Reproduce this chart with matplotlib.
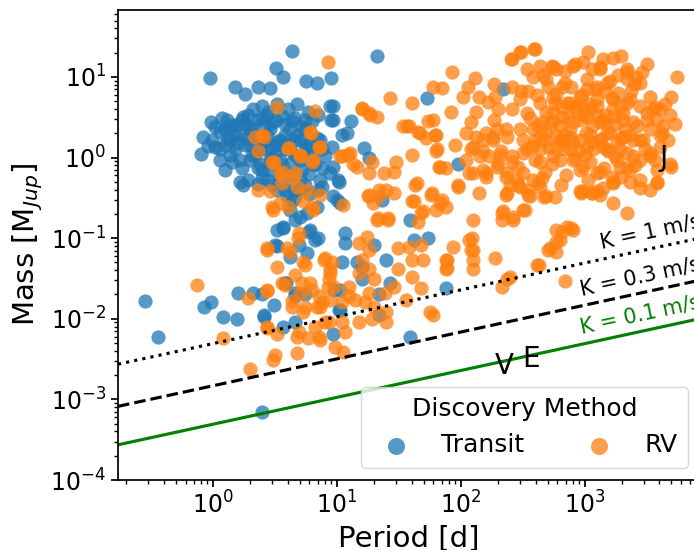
import numpy as np
import matplotlib
matplotlib.use("Agg")
import matplotlib.pyplot as plt

# planets found by transit (period [d], mass [M_Jup])
transit_period = [
    4.3, 21, 0.95, 3.2, 3.7, 1.5, 1.8, 2.3, 2.9, 5.6,
    6.9, 8.9, 9.3, 13, 16.5, 18, 11, 8.9, 53, 220,
    95, 0.8, 0.83, 0.96, 1.04, 1.14, 1.37, 1.75, 2.1, 2.5,
    2.7, 1.65, 1.9, 2.3, 2.9, 3.5, 4.2, 4.4, 4.2, 5.0,
    4.6, 5.7, 6.9, 3.95, 3.3, 3.7, 6.05, 7.0, 3.3, 4.2,
    5.7, 9.3, 10.6, 10.2, 8.8, 9.3, 8.0, 9.1, 12, 9.3,
    8.8, 1.25, 1.37, 1.5, 1.65, 1.81, 2.0, 2.2, 2.4, 2.6,
    2.9, 3.2, 3.5, 3.8, 4.2, 4.6, 5.0, 5.5, 6.0, 6.6,
    2.6, 3.2, 3.8, 4.6, 5.5, 2.0, 2.4, 2.9, 3.5, 4.2,
    5.0, 6.0, 7.3, 1.37, 1.65, 1.3, 1.6, 1.9, 2.3, 2.8,
    3.3, 4.0, 4.8, 5.8, 7.0, 7.3, 6.3, 7.6, 2.5, 3.0,
    5.0, 6.0, 3.8, 1.25, 1.81, 2.18, 2.63, 3.16, 3.8, 4.6,
    5.5, 2.0, 2.4, 2.9, 3.5, 4.2, 5.0, 1.5, 1.14, 0.98,
    1.18, 1.42, 1.71, 2.06, 2.49, 3.0, 3.6, 4.3, 5.2, 6.3,
    1.3, 1.56, 1.88, 2.26, 2.73, 3.3, 3.95, 4.75, 5.7, 6.9,
    1.42, 1.71, 2.06, 2.49, 3.0, 3.6, 4.3, 5.2, 6.3, 7.55,
    2.3, 2.8, 3.3, 4.6, 5.5, 7.0, 1.04, 0.91, 1.14, 1.25,
    1.75, 0.28, 0.36, 0.85, 0.96, 1.2, 1.56, 1.6, 2.1, 2.6,
    3.1, 3.7, 3.9, 4.6, 4.6, 9.3, 10.6, 2.5, 7.6, 10.4,
    10, 23, 3.7, 5.9, 6.6, 11.6, 11.6, 19.8, 25, 3.16,
    4.9, 11, 15.8, 3.8, 4.6, 5.5, 9.5, 10.6, 15.8, 27,
    22, 2.6, 10.4, 21.8, 39, 42, 54, 76, 39, 2.5,
    14.5,
]
transit_mass = [
    21, 18, 9.8, 13, 10, 7.6, 6.2, 7.6, 7.2, 8.8,
    8.3, 9.8, 4.3, 2.8, 1.33, 1.0, 1.93, 2.96, 5.4, 7.0,
    0.84, 1.12, 1.82, 2.72, 1.37, 2.1, 2.36, 3.2, 3.95, 4.3,
    3.4, 0.5, 0.53, 0.75, 0.94, 0.58, 0.44, 0.30, 0.226, 0.185,
    0.17, 0.207, 0.24, 0.33, 0.128, 0.139, 0.128, 0.1, 0.079, 0.059,
    0.066, 0.33, 0.276, 0.533, 0.65, 0.77, 1.03, 1.37, 2.04, 2.96,
    4.3, 2.23, 1.67, 1.26, 1.93, 1.45, 2.23, 1.09, 1.67, 1.26,
    2.23, 1.45, 0.94, 1.93, 1.26, 1.67, 0.94, 2.23, 1.45, 0.82,
    2.57, 2.96, 2.57, 3.1, 2.96, 0.94, 0.82, 0.71, 0.71, 0.62,
    0.53, 0.62, 0.53, 1.09, 0.94, 2.96, 2.57, 3.4, 2.96, 3.7,
    4.55, 3.95, 4.55, 3.7, 3.4, 1.67, 1.09, 1.26, 0.56, 0.46,
    0.40, 0.35, 0.40, 1.45, 2.57, 1.93, 1.67, 1.09, 1.26, 1.09,
    1.45, 1.45, 1.26, 1.33, 1.67, 2.23, 1.67, 1.93, 1.26, 1.67,
    3.1, 2.5, 2.96, 2.36, 3.1, 2.65, 3.3, 2.8, 2.36, 2.8,
    1.77, 1.5, 1.77, 1.41, 1.88, 1.58, 1.5, 1.88, 1.26, 1.77,
    0.89, 0.75, 1.06, 0.71, 1.0, 0.8, 0.89, 0.71, 0.82, 0.75,
    0.47, 0.53, 0.40, 0.32, 0.45, 0.40, 2.36, 1.41, 0.94, 0.71,
    0.46, 0.0165, 0.006, 0.014, 0.016, 0.0105, 0.010, 0.021, 0.021, 0.0105,
    0.015, 0.008, 0.028, 0.009, 0.019, 0.0064, 0.013, 0.0007, 0.436, 0.50,
    0.30, 0.30, 0.135, 0.12, 0.096, 0.117, 0.088, 0.083, 0.054, 0.083,
    0.083, 0.05, 0.044, 0.028, 0.021, 0.020, 0.023, 0.023, 0.031, 0.028,
    0.020, 0.011, 0.013, 0.011, 0.17, 0.096, 0.10, 0.024, 0.006, 0.020,
    0.05,
]

# planets found by radial velocity
rv_period = [
    # short period, mixed in with the transit clump
    8.5, 3.3, 6.6, 2.18, 2.5, 2.3, 3.0, 4.0, 6.05, 7.3,
    6.4, 5.0, 3.47, 3.6, 4.4, 4.75, 5.7, 2.3, 2.9, 3.47,
    3.05, 4.0, 5.3, 6.4, 7.3, 11, 11.2, 4.85, 2.7, 3.95,
    3.3, 5.3, 8.0, 8.8, 0.74, 1.9, 2.7, 3.8, 1.2, 2.7,
    3.3, 3.16, 3.05, 4.75, 2.0, 4.75, 5.8, 7.3, 6.9, 7.6,
    8.5, 6.05, 5.0, 4.3, 5.3, 8.0, 9.6, 11.2, 3.0, 6.3,
    4.9, 2.7, 4.2, 5.5, 7.8, 9.1, 15, 17.4, 18, 21,
    26, 18, 22, 29, 31, 4.6, 5.2, 6.3, 7.1, 8.6,
    8.8, 9.4, 12.5, 15, 15.8, 18, 20, 18, 12.5, 24.4,
    29, 31, 2.7, 3.6, 4.3, 5.5, 7.3, 8.8, 11, 14,
    16.8, 19.8, 25, 25, 19, 15, 11, 8.6, 6.6, 4.9,
    7.1, 2.7, 11.6,
    # intermediate periods
    43, 57, 71, 95, 140, 42, 49, 63, 76, 45,
    125, 230, 220, 215, 265, 320, 350, 465, 290, 420,
    38, 48, 49, 40, 86, 76, 76, 116, 120, 125,
    125, 190, 40, 48, 215, 250, 425, 505, 59, 36,
    575, 940, 1150, 1320, 1700, 2200, 3800, 2300, 1700, 780,
    660, 590, 590, 690, 800, 410, 235, 56,
    85, 130, 59, 71, 40, 83, 115, 185, 260, 305,
    260, 305, 390, 104, 140, 165, 190, 38, 45, 54,
    59, 63, 52, 90, 110, 132, 160, 120, 150, 63,
    40, 66, 76, 116, 150, 200, 132, 120, 185, 200,
    230, 260, 180, 168, 210, 260, 290, 315, 160, 230,
    27, 16, 18.4, 21, 36.5, 47, 62, 64, 13.5, 12.3,
    24, 29, 30, 68, 44, 95, 22, 25, 19.5, 17.8,
    21.5, 25.8, 40, 48, 58, 68, 16, 18, 34, 2.6,
    6.2, 7.1, 4.1, 5.0, 6.3, 3.1, 10.6, 12.7, 14.5, 19,
    18, 3.6, 4.6,
    # the long period clump
    1060, 1700, 1970, 5500, 830, 1150, 1320, 2200, 2900, 2500,
    2200, 1590, 5000, 4430, 4860, 3680, 3150, 3800, 4260, 4040,
    3350, 2650, 2780, 2310, 2020, 1970, 1700, 1450, 1250, 1040,
    690, 590, 540, 3350, 5000, 3800, 1750, 1920, 2450, 2310,
    1660, 1320, 913, 630, 590, 1040, 1400, 1970, 1520, 1150,
    913, 660, 574, 758, 970, 1250, 1400, 758, 660, 300,
    395, 255, 4200, 4040, 4860, 3800, 1250, 970, 490, 360,
    330, 235, 215, 265, 285, 315, 380, 455, 800, 970,
    1250, 1700, 1970, 2200, 800, 434, 340, 206, 195, 160,
    125, 110, 125, 180, 235, 300, 340, 434, 550, 660,
    490, 380, 340, 434, 550, 800, 1040, 1320, 1500, 1840,
    2200, 2600, 2780, 2200, 2780, 3550, 3150, 2450, 2020, 1700,
    1250, 913, 720, 550, 455, 380, 490, 630, 800, 1040,
    1320, 1590, 2020, 2450, 2950, 3350, 2780, 2200, 1500, 1150,
    913, 630, 550, 434, 260, 235, 300, 434, 195, 150,
    142, 913, 1150, 523, 691, 832, 1100, 1450, 1750, 1920,
    1000, 758, 1320, 476, 395, 1100, 2310, 2780, 3350,
    360, 420, 485, 550, 640, 735, 845, 985, 1120, 1280,
    1480, 1720, 320, 380, 445, 510, 585, 680, 775, 895,
    1020, 1170, 1345, 1550, 1810, 2100, 395, 475, 545, 700,
    830, 1100, 1420, 1830, 2560, 3050, 300, 350, 410, 500,
    590, 780, 955, 1200, 1650, 2380, 3350, 4040, 460, 690,
    970, 1410, 1850, 3200, 248, 340, 645, 1060, 1390, 2780,
    3680, 4700, 5330,
    590, 720, 523, 630, 122, 125, 77, 77,
]
rv_mass = [
    15.1, 4.2, 3.8, 1.82, 1.88, 1.19, 0.89, 1.33, 2.1, 1.37,
    0.94, 1.09, 0.65, 0.49, 0.58, 0.436, 0.40, 0.40, 0.38, 0.276,
    0.226, 0.24, 0.285, 0.226, 0.347, 1.03, 0.26, 0.1, 0.076, 0.076,
    0.044, 0.05, 0.057, 0.041, 0.026, 0.018, 0.022, 0.026, 0.0058, 0.0077,
    0.0064, 0.0036, 0.0031, 0.0038, 0.0024, 0.006, 0.0058, 0.0055, 0.014, 0.016,
    0.025, 0.028, 0.021, 0.0165, 0.012, 0.009, 0.0045, 0.0039, 0.246, 0.246,
    0.117, 0.072, 0.068, 0.047, 0.054, 0.05, 0.088, 0.104, 0.072, 0.17,
    0.17, 0.347, 0.40, 0.368, 0.076, 0.035, 0.028, 0.023, 0.019, 0.031,
    0.037, 0.025, 0.025, 0.037, 0.054, 0.041, 0.031, 0.021, 0.019, 0.021,
    0.025, 0.041, 0.023, 0.028, 0.014, 0.014, 0.014, 0.017, 0.016, 0.017,
    0.016, 0.014, 0.012, 0.009, 0.0098, 0.009, 0.009, 0.009, 0.008, 0.0068,
    0.006, 0.008, 0.0068,
    0.462, 0.347, 0.301, 0.436, 0.368, 0.285, 0.215, 0.226, 0.246, 0.16,
    0.17, 0.347, 0.215, 0.17, 0.17, 0.226, 0.347, 0.328, 0.462, 0.489,
    0.078, 0.083, 0.054, 0.054, 0.078, 0.054, 0.041, 0.096, 0.072, 0.054,
    0.041, 0.057, 0.033, 0.024, 0.025, 0.033, 0.046, 0.072, 0.011, 0.017,
    0.32, 0.368, 0.368, 0.347, 0.276, 0.207, 0.489, 0.5, 0.49, 0.135,
    0.12, 0.09, 0.068, 0.029, 0.128, 0.047, 0.031, 0.012,
    11.4, 9.6, 7.6, 7.2, 4.8, 3.7, 7.4, 8.1, 7.6, 6.6,
    16.5, 20.2, 22, 5.7, 5.7, 4.95, 5.6, 2.43, 2.1, 2.8,
    2.96, 1.93, 1.77, 1.45, 2.04, 1.82, 2.04, 1.26, 1.19, 1.19,
    1.06, 0.77, 0.75, 0.65, 0.71, 0.82, 3.7, 2.72, 2.96, 3.95,
    2.23, 3.95, 1.67, 1.03, 1.19, 1.03, 0.77, 1.15, 0.58, 0.58,
    5.4, 3.95, 3.4, 3.2, 2.43, 2.04, 1.93, 1.26, 0.82, 1.09,
    0.65, 0.67, 0.87, 0.77, 0.49, 0.46, 0.33, 0.40, 0.276, 0.33,
    0.18, 0.18, 0.285, 0.207, 0.368, 0.276, 4.1, 3.6, 2.43, 1.82,
    2.04, 1.37, 1.33, 1.03, 0.87, 0.87, 1.03, 1.15, 0.77, 0.87,
    0.65, 0.67, 0.65,
    20.2, 17.4, 18, 10, 14.3, 12.4, 13.1, 12.4, 11.4, 8.1,
    9.3, 8.8, 5.6, 4.55, 3.4, 4.2, 3.6, 2.96, 2.43, 1.93,
    2.23, 2.43, 1.67, 1.93, 2.96, 4.3, 5.25, 6.6, 7.6, 7.0,
    8.5, 12.4, 13.5, 1.03, 0.77, 0.71, 1.03, 0.77, 1.03, 0.71,
    0.58, 0.67, 0.71, 0.94, 1.33, 1.37, 1.37, 1.77, 2.04, 2.43,
    2.96, 3.2, 4.8, 4.8, 4.3, 4.3, 2.96, 2.23, 1.67, 20.2,
    22, 16.5, 2.04, 1.37, 0.82, 0.5, 0.38, 0.38, 0.33, 0.33,
    0.226, 0.368, 0.207, 0.185, 0.533, 0.65, 0.533, 0.56, 0.94, 0.77,
    0.65, 0.5, 0.58, 0.77, 1.54, 1.26, 1.26, 1.09, 0.77, 0.65,
    0.65, 0.94, 1.37, 1.82, 1.82, 2.23, 3.6, 4.8, 5.7, 7.6,
    9.3, 10, 12.4, 13.5, 13.1, 13.5, 9.3, 12.4, 8.5, 6.4,
    11.4, 10, 8.5, 4.8, 4.3, 3.95, 2.96, 2.72, 3.6, 3.95,
    5.25, 5.7, 4.8, 3.6, 2.72, 2.23, 2.04, 2.43, 2.72, 3.2,
    2.72, 2.04, 1.82, 1.67, 1.67, 1.15, 0.94, 1.15, 1.26, 1.54,
    1.67, 1.67, 1.03, 0.87, 0.87, 0.65, 0.436, 0.436, 2.23, 1.67,
    1.03, 0.38, 0.368, 2.57, 1.93, 3.95, 1.93, 3.4, 2.57, 1.26,
    1.09, 1.26, 1.67, 1.67, 1.67, 4.55, 5.25, 0.533, 0.40,
    3.1, 2.5, 3.7, 2.85, 4.2, 3.2, 4.4, 3.4, 4.1, 3.3,
    2.65, 3.3, 1.67, 1.4, 1.88, 1.37, 1.93, 1.26, 1.77, 1.19,
    2.04, 1.26, 1.72, 1.19, 1.58, 2.23, 0.94, 0.67, 0.82, 0.6,
    1.0, 0.89, 0.75, 0.94, 0.8, 1.26, 5.25, 6.6, 5.9, 7.4,
    6.1, 7.4, 5.9, 7.0, 5.55, 6.6, 5.7, 3.95, 10.7, 11.7,
    15.5, 16.5, 10.7, 14.3, 0.46, 0.40, 0.46, 0.53, 0.42, 0.42,
    0.94, 1.67, 2.57,
    0.128, 0.139, 0.076, 0.096, 0.1, 0.072, 0.054, 0.043,
]

# RV semi-amplitude curves [m/s] and solar system markers
k_values = [1, 0.3, 0.1]
k_styles = [':', '--', '-']
k_colors = ['black', 'black', 'green']
k_label_period = [1400, 950, 950]
planet_labels = ['V', 'E', 'J']
planet_period = [224.7, 365.25, 4332.6]
planet_mass = [0.00256, 0.00315, 1.0]

plt.rcParams['font.size'] = 18
plt.rcParams['axes.labelsize'] = 21
plt.rcParams['xtick.labelsize'] = 17
plt.rcParams['ytick.labelsize'] = 17
plt.rcParams['legend.fontsize'] = 18
plt.rcParams['legend.title_fontsize'] = 18
plt.rcParams['axes.linewidth'] = 1.25

fig = plt.figure(figsize=(6.94, 5.5), dpi=100)
ax = fig.add_axes([118 / 694, 70 / 550, 582 / 694, 470 / 550])

ax.scatter(transit_period, transit_mass, s=105, alpha=0.75, lw=0,
           color='#1f77b4', label='Transit')
ax.scatter(rv_period, rv_mass, s=105, alpha=0.75, lw=0,
           color='#ff7f0e', label='RV')

ax.set_xscale('log')
ax.set_yscale('log')
ax.set_xlim(0.171, 8500)
ax.set_ylim(1e-4, 10 ** 1.83)

# minimum detectable mass for a sun-like star, M = K/28.43 * (P/1yr)^(1/3)
p_line = np.array(ax.get_xlim())
for k, ls, c, p_lab in zip(k_values, k_styles, k_colors, k_label_period):
    ax.plot(p_line, k / 28.43 * (p_line / 365.25) ** (1 / 3), ls=ls,
            color=c, lw=2.25)
    m_lab = k / 28.43 * (p_lab / 365.25) ** (1 / 3)
    ax.text(p_lab, m_lab * 1.2, f'K = {k} m/s', color=c, fontsize=15,
            rotation=12.2, rotation_mode='anchor', ha='left', va='bottom')

for lab, p, m in zip(planet_labels, planet_period, planet_mass):
    ax.text(p, m, lab, fontsize=20, ha='center', va='center')

ax.set_xlabel('Period [d]')
ax.set_ylabel(r'Mass [M$_{Jup}$]')
ax.tick_params(which='major', length=5, width=1.25)
ax.tick_params(which='minor', length=3, width=1)

ax.legend(title='Discovery Method', ncol=2, loc='lower right', markerscale=1.2)

fig.savefig('out.png', dpi=100)
